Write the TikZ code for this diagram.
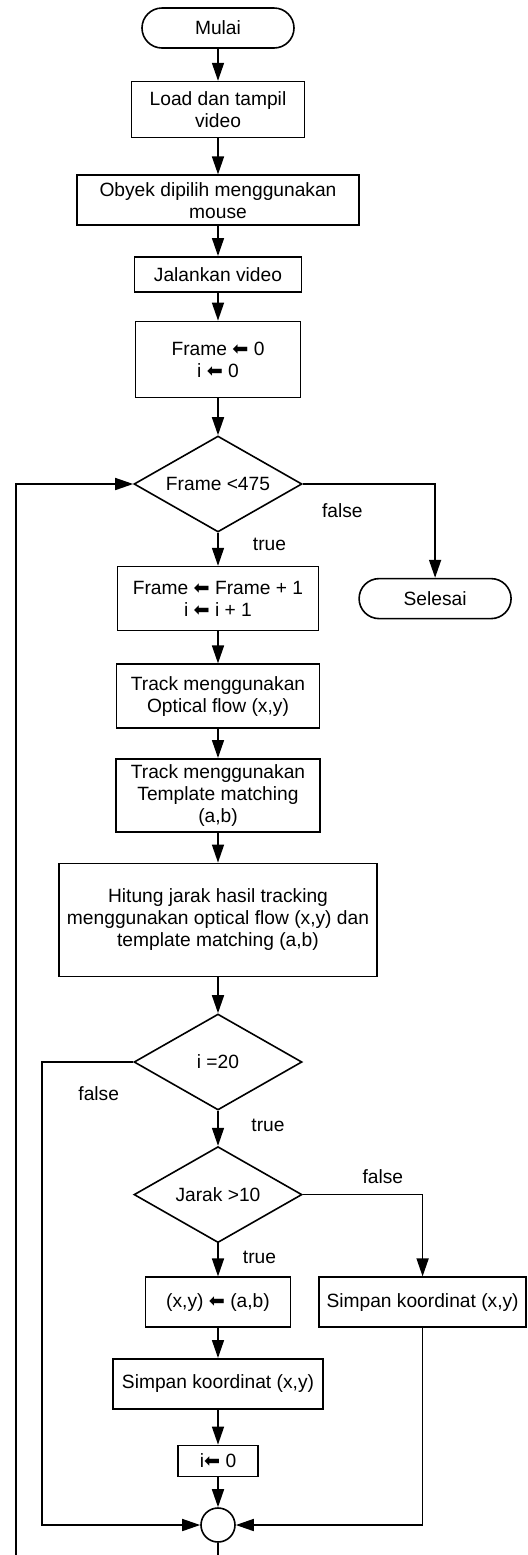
\documentclass[tikz,border=0pt]{standalone}
\usepackage{fontspec}
\setmainfont{Liberation Sans}
\newfontfamily\panahfont{DejaVu Sans}
\newcommand{\kiri}{{\panahfont ⬅}}
\usepackage{tikz}
\usetikzlibrary{calc}
\usetikzlibrary{positioning}
\usetikzlibrary{shapes.geometric}
\usetikzlibrary{arrows.meta}
\tikzstyle{procnode} = [draw, rectangle, align=center, inner sep=0pt, line width=0.8pt]
\tikzstyle{termnode} = [draw, rectangle, rounded corners=10pt, minimum width=76pt, minimum height=20pt, inner sep=0pt, line width=0.8pt]
\tikzstyle{decnode} = [draw, diamond, aspect=1.75, minimum width=84pt, minimum height=48pt, inner sep=0pt, line width=0.8pt]
\tikzstyle{joinnode} = [draw, circle, minimum size=17pt, inner sep=0pt, line width=0.8pt]
\tikzstyle{lbl} = [inner sep=0pt]
\tikzstyle{flow} = [-{Triangle[length=9pt,width=6pt]}, line width=0.8pt]

\begin{document}
\begin{tikzpicture}[every node/.style={font=\fontsize{9.6}{11}\selectfont}]
  \useasboundingbox (0,0) rectangle (263.5pt,-777.5pt);

  \node[termnode] (mulai) at (109pt,-14pt) {Mulai};
  \node[procnode, minimum width=86.5pt, minimum height=28pt, below=16pt of mulai] (load) {Load dan tampil\\video};
  \node[procnode, minimum width=141pt, minimum height=25pt, below=18pt of load] (obyek) {Obyek dipilih menggunakan\\mouse};
  \node[procnode, minimum width=83.5pt, minimum height=17.5pt, below=15pt of obyek] (jalan) {Jalankan video};
  \node[procnode, minimum width=82.5pt, minimum height=38pt, below=14pt of jalan] (init) {Frame \kiri{} 0\\i \kiri{} 0};
  \node[decnode, below=18.5pt of init] (cek1) {Frame <475};
  \node[procnode, minimum width=100.5pt, minimum height=32pt, below=16.5pt of cek1] (tambah) {Frame \kiri{} Frame + 1\\i \kiri{} i + 1};
  \node[termnode, right=19.5pt of tambah] (selesai) {Selesai};
  \node[procnode, minimum width=101.5pt, minimum height=32pt, below=16pt of tambah] (optik) {Track menggunakan\\Optical flow (x,y)};
  \node[procnode, minimum width=102pt, minimum height=36.5pt, below=14.5pt of optik] (templat) {Track menggunakan\\Template matching\\(a,b)};
  \node[procnode, minimum width=159pt, minimum height=56.5pt, below=15pt of templat] (hitung) {Hitung jarak hasil tracking\\menggunakan optical flow (x,y) dan\\template matching (a,b)};
  \node[decnode, below=18pt of hitung] (cek2) {i =20};
  \node[decnode, below=17.5pt of cek2] (cek3) {Jarak >10};
  \node[procnode, minimum width=72.5pt, minimum height=25pt, below=16.5pt of cek3] (tukar) {(x,y) \kiri{} (a,b)};
  \node[procnode, minimum width=103.5pt, minimum height=25pt, right=13.5pt of tukar] (simpanB) {Simpan koordinat (x,y)};
  \node[procnode, minimum width=105pt, minimum height=25pt, below=15pt of tukar] (simpanA) {Simpan koordinat (x,y)};
  \node[procnode, minimum width=40pt, minimum height=15.5pt, below=17.5pt of simpanA] (reset) {i\kiri{} 0};
  \node[joinnode, below=15pt of reset] (gabung) {};

  \node[lbl] (f1) at ($(cek1.east)+(19.75pt,-13.5pt)$) {false};
  \node[lbl] (t1) at ($(cek1.south)+(25.75pt,-6pt)$) {true};
  \node[lbl] (f2) at ($(cek2.west)+(-17.25pt,-16pt)$) {false};
  \node[lbl] (t2) at ($(cek2.south)+(25pt,-7.5pt)$) {true};
  \node[lbl] (f3) at ($(cek3.east)+(40pt,9pt)$) {false};
  \node[lbl] (t3) at ($(cek3.south)+(20.75pt,-7pt)$) {true};

  \coordinate[below=18.5pt of gabung] (ujung);
  \coordinate (balik) at ($(ujung)+(-101pt,0)$);

  \draw[flow] (mulai) -- (load);
  \draw[flow] (load) -- (obyek);
  \draw[flow] (obyek) -- (jalan);
  \draw[flow] (jalan) -- (init);
  \draw[flow] (init) -- (cek1);
  \draw[flow] (cek1) -- (tambah);
  \draw[flow] (cek1.east) -| (selesai.north);
  \draw[flow] (tambah) -- (optik);
  \draw[flow] (optik) -- (templat);
  \draw[flow] (templat) -- (hitung);
  \draw[flow] (hitung) -- (cek2);
  \draw[flow] (cek2) -- (cek3);
  \draw[flow] (cek2.west) -- ++(-45.5pt,0) |- (gabung.west);
  \draw[flow] (cek3) -- (tukar);
  \draw[flow] (cek3.east) -| (simpanB.north);
  \draw[flow] (tukar) -- (simpanA);
  \draw[flow] (simpanA) -- (reset);
  \draw[flow] (reset) -- (gabung);
  \draw[flow] (simpanB.south) |- (gabung.east);
  \draw[line width=0.8pt] (gabung) -- (ujung);
  \draw[flow] (balik) |- (cek1.west);
\end{tikzpicture}
\end{document}
